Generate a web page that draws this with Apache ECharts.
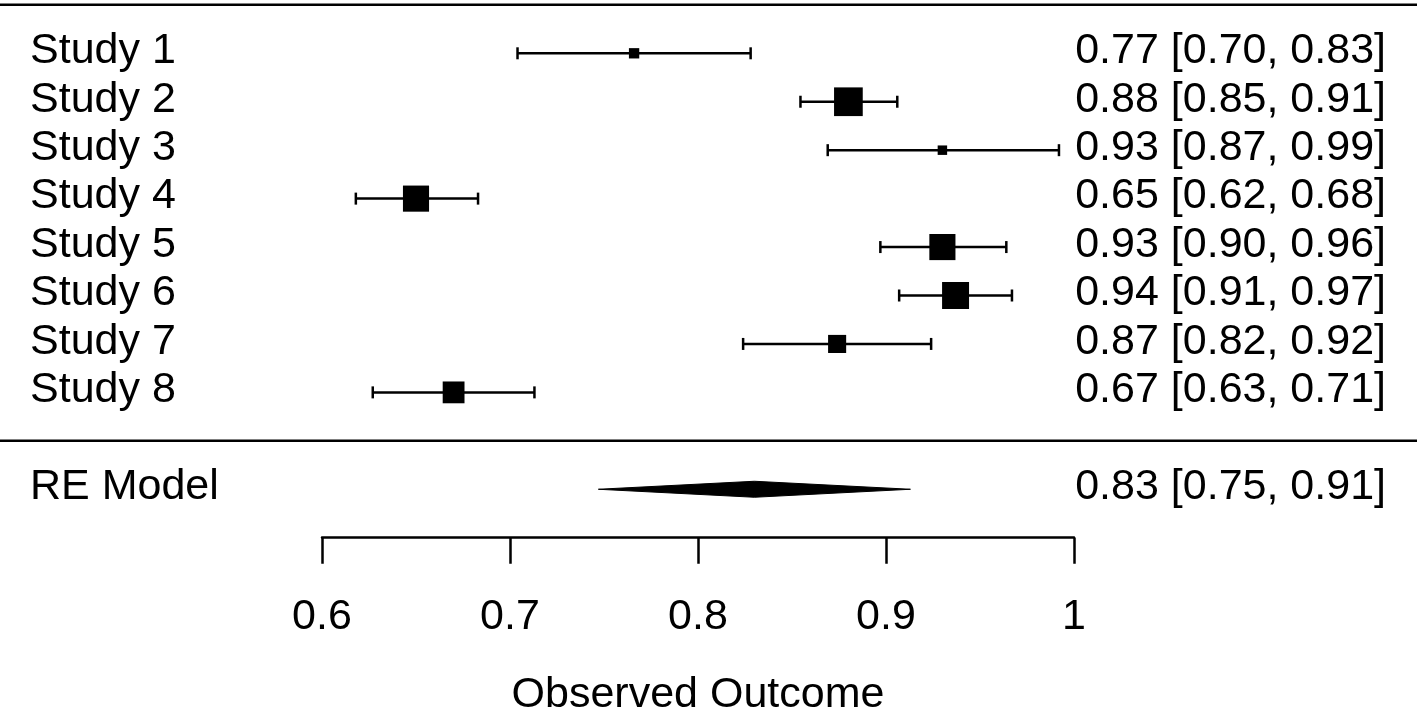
<!DOCTYPE html>
<html><head><meta charset="utf-8">
<script src="https://cdn.jsdelivr.net/npm/echarts@6/dist/echarts.min.js"></script>
<style>html,body{margin:0;padding:0;background:#fff}#c{width:1417px;height:713px}</style>
</head><body><div id="c"></div>
<script>
// ---- data ----
const studies = ['Study 1','Study 2','Study 3','Study 4','Study 5','Study 6','Study 7','Study 8'];
const estimates = [0.766, 0.880, 0.930, 0.650, 0.930, 0.937, 0.874, 0.670];
const ciLower   = [0.704, 0.8545, 0.869, 0.618, 0.897, 0.907, 0.824, 0.627];
const ciUpper   = [0.828, 0.906, 0.992, 0.683, 0.964, 0.967, 0.924, 0.713];
const weights   = [0.36, 1.00, 0.33, 0.91, 0.91, 0.94, 0.63, 0.76]; // relative weights
const modelLabel = 'RE Model';
const modelEstimate = [0.830];
const modelLower = [0.747];
const modelUpper = [0.913];
const xTicks = [0.6, 0.7, 0.8, 0.9, 1];
const axisTitle = 'Observed Outcome';

// ---- layout / style ----
const FAMILY = '"Liberation Sans", Arial, Helvetica, sans-serif';
const FONT = '43px ' + FAMILY;
const MAX_SQ = 28.7;
const LW = 2.5;
const TEXT_DY = -2;
const fmt = v => v.toFixed(2);

const studyData = studies.map((s, i) => [estimates[i], i + 1, ciLower[i], ciUpper[i], weights[i], i]);
const modelRow = studies.length + 2;
const sepRows = [0, studies.length + 1];

function txt(text, x, y, align) {
  return {type: 'text', style: {text, x, y: y + TEXT_DY, align, verticalAlign: 'middle', font: FONT, fill: '#000'}};
}

const chart = echarts.init(document.getElementById('c'), null, {renderer: 'canvas'});
chart.setOption({
  backgroundColor: '#fff',
  animation: false,
  grid: {left: 322, right: 343, top: 4.86, bottom: 175.3, containLabel: false, outerBoundsMode: 'none'},
  xAxis: {
    type: 'value', min: xTicks[0], max: xTicks[xTicks.length - 1], interval: 0.1,
    position: 'bottom',
    axisLine: {show: true, onZero: false, lineStyle: {color: '#000', width: LW}},
    axisTick: {show: true, length: 26, lineStyle: {color: '#000', width: LW}},
    axisLabel: {color: '#000', fontSize: 43, fontFamily: FAMILY, margin: 58},
    splitLine: {show: false},
    name: axisTitle, nameLocation: 'middle', nameGap: 136,
    nameTextStyle: {color: '#000', fontSize: 43, fontFamily: FAMILY}
  },
  yAxis: {type: 'value', inverse: true, min: 0, max: modelRow + 1, show: false},
  series: [
    {
      type: 'custom', clip: false, silent: true,
      data: sepRows.map(r => [xTicks[0], r]),
      renderItem: (params, api) => {
        const p = api.coord([api.value(0), api.value(1)]);
        return {type: 'line', shape: {x1: 0, y1: p[1], x2: api.getWidth(), y2: p[1]},
                style: {stroke: '#000', lineWidth: 2.5}};
      }
    },
    {
      type: 'custom', clip: false, silent: true,
      data: studyData,
      renderItem: (params, api) => {
        const est = api.value(0), row = api.value(1), lo = api.value(2), hi = api.value(3), w = api.value(4);
        const idx = api.value(5);
        const pE = api.coord([est, row]), pL = api.coord([lo, row]), pH = api.coord([hi, row]);
        const s = MAX_SQ * w, cap = 6;
        const st = {stroke: '#000', lineWidth: LW};
        return {type: 'group', children: [
          {type: 'line', shape: {x1: pL[0], y1: pL[1], x2: pH[0], y2: pH[1]}, style: st},
          {type: 'line', shape: {x1: pL[0], y1: pL[1] - cap, x2: pL[0], y2: pL[1] + cap}, style: st},
          {type: 'line', shape: {x1: pH[0], y1: pH[1] - cap, x2: pH[0], y2: pH[1] + cap}, style: st},
          {type: 'rect', shape: {x: pE[0] - s / 2, y: pE[1] - s / 2, width: s, height: s}, style: {fill: '#000'}},
          txt(studies[idx], 30, pE[1], 'left'),
          txt(fmt(estimates[idx]) + ' [' + fmt(ciLower[idx]) + ', ' + fmt(ciUpper[idx]) + ']', 1386, pE[1], 'right')
        ]};
      }
    },
    {
      type: 'custom', clip: false, silent: true,
      data: modelEstimate.map((e, i) => [e, modelRow, modelLower[i], modelUpper[i]]),
      renderItem: (params, api) => {
        const est = api.value(0), row = api.value(1), lo = api.value(2), hi = api.value(3);
        const pE = api.coord([est, row]), pL = api.coord([lo, row]), pH = api.coord([hi, row]);
        const h = 8;
        return {type: 'group', children: [
          {type: 'polygon', shape: {points: [[pL[0], pL[1]], [pE[0], pE[1] - h], [pH[0], pH[1]], [pE[0], pE[1] + h]]},
           style: {fill: '#000', stroke: '#000', lineWidth: 1}},
          txt(modelLabel, 30, pE[1], 'left'),
          txt(fmt(est) + ' [' + fmt(lo) + ', ' + fmt(hi) + ']', 1386, pE[1], 'right')
        ]};
      }
    }
  ]
});
</script>
</body></html>
